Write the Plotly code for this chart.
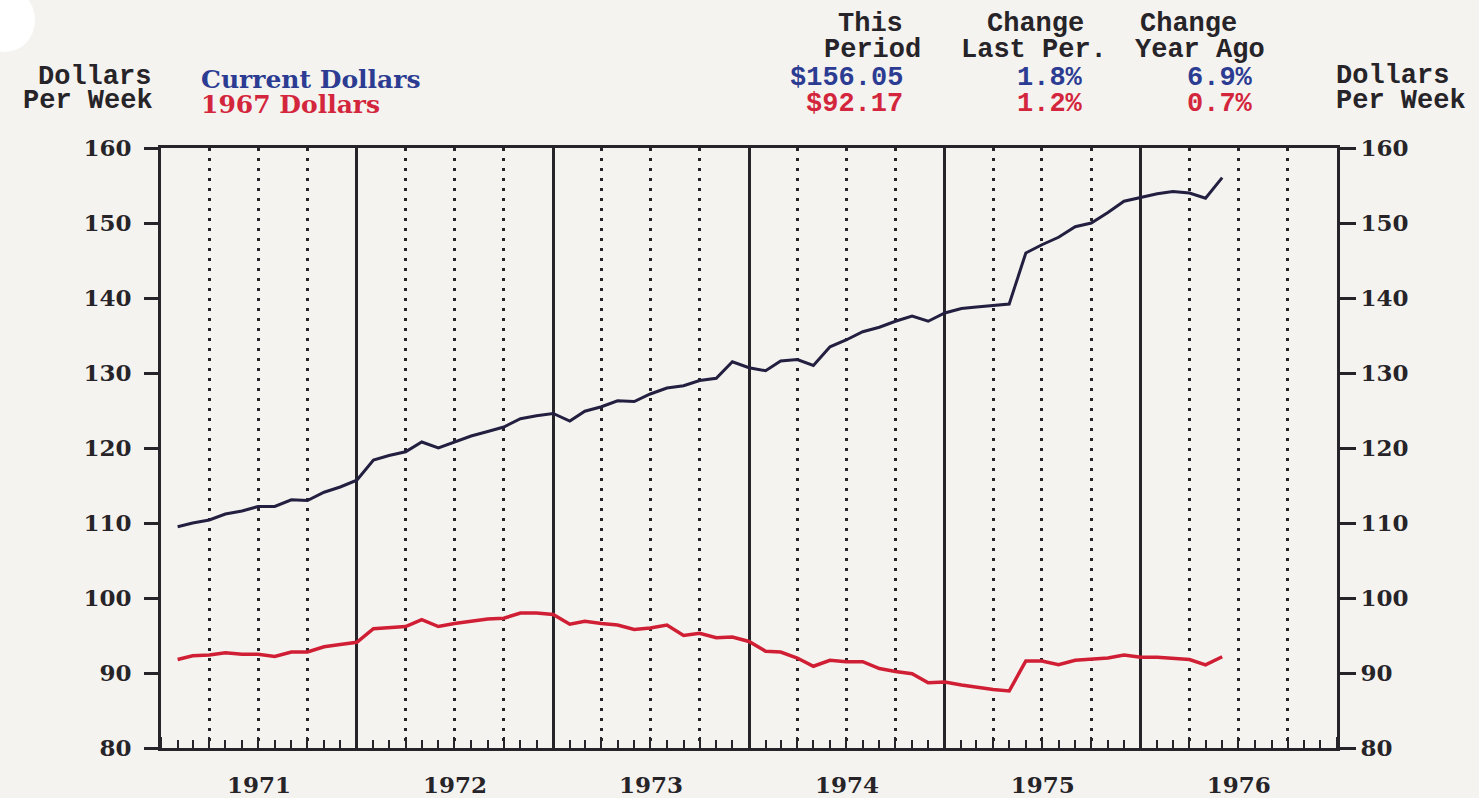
import pandas as pd
import plotly.graph_objects as go

# ---------------- data ----------------
months = pd.date_range("1971-02-01", periods=65, freq="MS")

current_dollars = [
    109.5, 110.0, 110.4, 111.2, 111.6, 112.2, 112.2, 113.1, 113.0, 114.1, 114.8, 115.7,
    118.4, 119.0, 119.5, 120.8, 120.0, 120.8, 121.6, 122.2, 122.8, 123.9, 124.3, 124.6,
    123.6, 124.9, 125.5, 126.3, 126.2, 127.2, 128.0, 128.3, 129.0, 129.3, 131.5, 130.7,
    130.3, 131.6, 131.8, 131.0, 133.5, 134.4, 135.5, 136.1, 136.9, 137.6, 136.9, 138.0,
    138.6, 138.8, 139.0, 139.2, 146.0, 147.1, 148.1, 149.5, 150.0, 151.4, 152.9, 153.4,
    153.9, 154.2, 154.0, 153.3, 156.05,
]

dollars_1967 = [
    91.8, 92.3, 92.4, 92.7, 92.5, 92.5, 92.2, 92.8, 92.8, 93.5, 93.8, 94.1,
    95.9, 96.0, 96.2, 97.1, 96.2, 96.6, 96.9, 97.2, 97.3, 98.0, 98.0, 97.8,
    96.5, 96.9, 96.6, 96.4, 95.8, 96.0, 96.4, 95.0, 95.3, 94.7, 94.8, 94.2,
    92.9, 92.8, 92.0, 90.9, 91.7, 91.5, 91.5, 90.6, 90.2, 89.9, 88.7, 88.8,
    88.4, 88.1, 87.8, 87.6, 91.6, 91.6, 91.1, 91.7, 91.8, 92.0, 92.4, 92.1,
    92.1, 92.0, 91.8, 91.08, 92.17,
]

series_names = ["Current Dollars", "1967 Dollars"]
this_period = ["$156.05", "$92.17"]
change_last_period = ["1.8%", "1.2%"]
change_year_ago = ["6.9%", "0.7%"]

y_ticks = [80, 90, 100, 110, 120, 130, 140, 150, 160]

# ---------------- style ----------------
BG = "#f5f3ef"
INK = "#262428"
BLUE_TXT = "#2c3c92"
RED_TXT = "#d3263d"
BLUE_LINE = "#231f40"
RED_LINE = "#d01f34"
MONO = "Liberation Mono"
SERIF = "DejaVu Serif"

L, R, T, B = 161, 1337, 148, 748
W, H = 1479, 798


def px(x):
    return (x - L) / (R - L)


def py(y):
    return (B - y) / (B - T)


fig = go.Figure()
fig.add_trace(go.Scatter(x=months, y=current_dollars, mode="lines",
                         line=dict(color=BLUE_LINE, width=3),
                         name=series_names[0], xaxis="x", yaxis="y"))
fig.add_trace(go.Scatter(x=months, y=dollars_1967, mode="lines",
                         line=dict(color=RED_LINE, width=3.5),
                         name=series_names[1], xaxis="x2", yaxis="y2"))

x_range = ["1971-01-01", "1977-01-01"]
tickfont = dict(family=SERIF, size=23, color=INK, weight="bold")

fig.update_layout(
    width=W, height=H,
    margin=dict(l=L, r=W - R, t=T, b=H - B),
    paper_bgcolor=BG, plot_bgcolor=BG,
    showlegend=False,
    xaxis=dict(
        type="date", range=x_range, dtick="M12", tick0="1971-01-01",
        ticklabelmode="period", tickformat="%Y",
        ticks="inside", ticklen=11, tickwidth=2, tickcolor=INK,
        showgrid=True, gridcolor=INK, gridwidth=2.5,
        showline=True, linewidth=3, linecolor=INK, mirror=True,
        minor=dict(dtick="M3", tick0="1971-01-01", showgrid=True,
                   griddash="3px,7px", gridcolor=INK, gridwidth=2.5,
                   ticks="inside", ticklen=11, tickwidth=2, tickcolor=INK),
        tickfont=tickfont, ticklabelstandoff=14,
        automargin=False, fixedrange=True, zeroline=False,
    ),
    xaxis2=dict(
        type="date", range=x_range, overlaying="x", anchor="y2",
        dtick="M1", tick0="1971-01-01", ticks="inside", ticklen=8,
        tickwidth=2, tickcolor=INK, showticklabels=False,
        showgrid=False, showline=False, automargin=False, fixedrange=True,
    ),
    yaxis=dict(
        range=[80, 160], tickvals=y_ticks, ticks="outside", ticklen=14,
        tickwidth=2.5, tickcolor=INK, showline=True, linewidth=3,
        linecolor=INK, showgrid=False, zeroline=False, tickfont=tickfont,
        ticklabelstandoff=8, automargin=False, fixedrange=True,
    ),
    yaxis2=dict(
        range=[80, 160], tickvals=y_ticks, overlaying="y", side="right",
        anchor="x2", ticks="outside", ticklen=16, tickwidth=2.5,
        tickcolor=INK, showline=True, linewidth=3, linecolor=INK,
        showgrid=False, zeroline=False, tickfont=tickfont,
        automargin=False, fixedrange=True,
    ),
)

mono = dict(family=MONO, size=27, color=INK, weight="bold")
annotations = []


def add_text(text, x, y, anchor, color=INK, font=None):
    f = dict(font or mono)
    f["color"] = color
    annotations.append(dict(text=text, x=px(x), y=py(y), xref="paper", yref="paper",
                            xanchor=anchor, yanchor="middle", showarrow=False,
                            borderpad=0, font=f))


# left axis title
add_text("Dollars", 152, 77, "right")
add_text("Per Week", 154, 101, "right")
# right axis title
add_text("Dollars", 1335, 76, "left")
add_text("Per Week", 1335, 101, "left")
# series labels
legend_font = dict(family=SERIF, size=25, color=INK, weight="bold")
add_text(series_names[0], 200, 79, "left", BLUE_TXT, legend_font)
add_text(series_names[1], 200, 105, "left", RED_TXT, legend_font)
# header table
add_text("This", 870, 24, "center")
add_text("Period", 872, 50, "center")
add_text("Change", 1035, 24, "center")
add_text("Last Per.", 1034, 50, "center")
add_text("Change", 1188, 24, "center")
add_text("Year Ago", 1200, 50, "center")
row_y = [78, 104]
row_col = [BLUE_TXT, RED_TXT]
for i in range(2):
    add_text(this_period[i], 904, row_y[i], "right", row_col[i])
    add_text(change_last_period[i], 1084, row_y[i], "right", row_col[i])
    add_text(change_year_ago[i], 1254, row_y[i], "right", row_col[i])

fig.update_layout(annotations=annotations)

# hole-punch artifact at top-left corner
fig.add_shape(type="circle", xref="paper", yref="paper",
              x0=px(-25), x1=px(35), y0=py(52), y1=py(-12),
              fillcolor="#ffffff", line=dict(width=0), layer="above")

fig.write_html(
    "out.html",
    config={"displayModeBar": False},
    post_script=(
        "document.body.style.margin='0';"
        "document.body.style.background='" + BG + "';"
        "document.body.style.overflow='hidden';"
    ),
)
